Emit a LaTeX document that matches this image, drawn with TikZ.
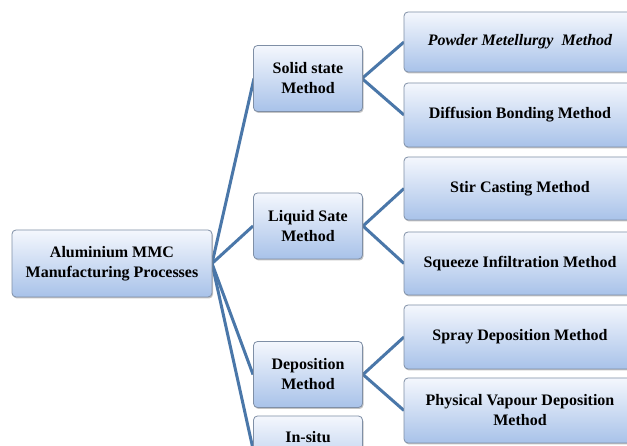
\documentclass[tikz,border=0pt]{standalone}
\usepackage{fontspec}
\setmainfont{Liberation Serif}
\usetikzlibrary{shadows}
\definecolor{linkc}{HTML}{4A77A9}
\definecolor{boxtop}{HTML}{F4F7FD}
\definecolor{boxbot}{HTML}{A8C2E9}
\definecolor{boxedge}{HTML}{7F8FA6}
\tikzset{
  box/.style={draw=boxedge, line width=0.8pt, rounded corners=4pt,
    top color=boxtop, bottom color=boxbot, align=center,
    font=\fontsize{16}{20}\selectfont\bfseries, inner sep=2pt,
    drop shadow={opacity=0.45, shadow xshift=1pt, shadow yshift=-1.5pt}},
  rootbox/.style={box, minimum width=200pt, minimum height=67pt},
  methbox/.style={box, minimum width=109pt, minimum height=66pt},
  subbox/.style={box, minimum width=232pt, minimum height=62pt},
  link/.style={draw=linkc, line width=3pt}
}
\begin{document}
\begin{tikzpicture}[x=1pt,y=-1pt]
\useasboundingbox (0,0) rectangle (627,446);
\clip (0,0) rectangle (627,446);
\fill[white] (0,0) rectangle (627,446);
% links first (behind boxes)
\coordinate (rootE) at (212,263.5);
\coordinate (solidW) at (254,78.5);
\coordinate (liqW) at (253,226);
\coordinate (depW) at (253,374.5);
\coordinate (insW) at (253,449);
\coordinate (solidE) at (362,78.5);
\coordinate (liqE) at (363,226);
\coordinate (depE) at (363,374.5);
\coordinate (powW) at (404,42);
\coordinate (difW) at (404,115);
\coordinate (stirW) at (404,188.5);
\coordinate (sqzW) at (404,263.5);
\coordinate (sprW) at (404,337);
\coordinate (pvdW) at (404,410.5);
\draw[link] (rootE) -- (solidW);
\draw[link] (rootE) -- (liqW);
\draw[link] (rootE) -- (depW);
\draw[link] (rootE) -- (insW);
\draw[link] (solidE) -- (powW);
\draw[link] (solidE) -- (difW);
\draw[link] (liqE) -- (stirW);
\draw[link] (liqE) -- (sqzW);
\draw[link] (depE) -- (sprW);
\draw[link] (depE) -- (pvdW);
% boxes
\node[rootbox] (root) at (112,263.5) {Aluminium MMC\\Manufacturing Processes};
\node[methbox] (solid) at (308,78.5) {Solid state\\Method};
\node[methbox] (liq) at (308,226) {Liquid Sate\\Method};
\node[methbox] (dep) at (308,374.5) {Deposition\\Method};
\node[methbox] (ins) at (308,449) {In-situ\\[4pt]\phantom{Method}};
\node[subbox, minimum height=60pt] (pow) at (520,42) {\itshape Powder Metellurgy\ \ Method};
\node[subbox, minimum height=64pt] (dif) at (520,115) {Diffusion Bonding Method};
\node[subbox, minimum height=63pt] (stir) at (520,188.5) {Stir Casting Method};
\node[subbox, minimum height=63pt] (sqz) at (520,263.5) {Squeeze Infiltration Method};
\node[subbox, minimum height=64pt] (spr) at (520,337) {Spray Deposition Method};
\node[subbox, minimum height=65pt] (pvd) at (520,410.5) {Physical Vapour Deposition\\Method};
\end{tikzpicture}
\end{document}
